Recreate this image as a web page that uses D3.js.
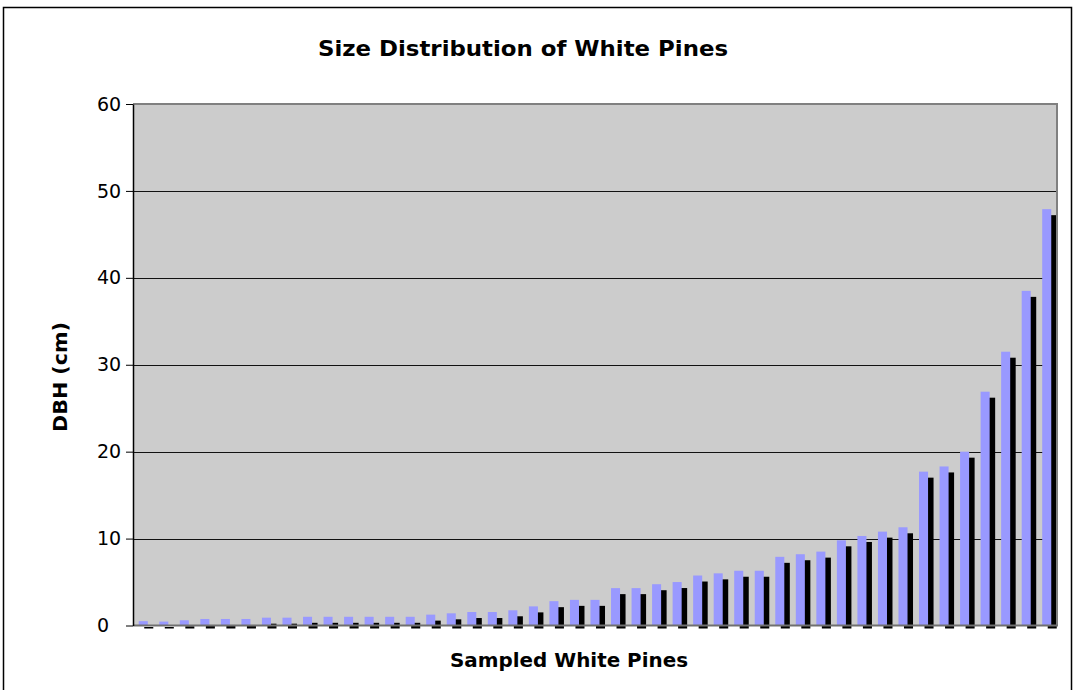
<!DOCTYPE html>
<html>
<head>
<meta charset="utf-8">
<script src="https://cdn.jsdelivr.net/npm/d3@7/dist/d3.min.js"></script>
<style>
  html, body { margin: 0; padding: 0; background: #ffffff; }
  svg { display: block; }
  text { font-family: "DejaVu Sans", Verdana, sans-serif; fill: #000; }
</style>
</head>
<body>
<svg id="chart" width="1076" height="690"></svg>
<script>
// Sampled trees, sorted by diameter at breast height
const trees = [1, 2, 3, 4, 5, 6, 7, 8, 9, 10, 11, 12, 13, 14, 15, 16, 17, 18, 19, 20,
               21, 22, 23, 24, 25, 26, 27, 28, 29, 30, 31, 32, 33, 34, 35, 36, 37, 38, 39, 40,
               41, 42, 43, 44, 45];
const dbh = [0.5, 0.45, 0.6, 0.75, 0.75, 0.75, 0.9, 0.9, 1.0, 1.0,
             1.0, 1.0, 1.0, 1.0, 1.25, 1.4, 1.55, 1.55, 1.75, 2.2,
             2.8, 2.95, 2.95, 4.3, 4.3, 4.75, 5.0, 5.75, 6.0, 6.3,
             6.3, 7.9, 8.2, 8.5, 9.8, 10.3, 10.8, 11.3, 17.7, 18.3,
             20.0, 26.9, 31.5, 38.5, 47.9];
const yTicks = [0, 10, 20, 30, 40, 50, 60];

const titleText = "Size Distribution of White Pines";
const xTitleText = "Sampled White Pines";
const yTitleText = "DBH (cm)";

const svg = d3.select("#chart");
const plot = { left: 133, right: 1057, top: 104, bottom: 625.5 };

// outer chart frame
svg.append("rect")
  .attr("x", 3.5).attr("y", 7.5)
  .attr("width", 1068).attr("height", 700)
  .attr("fill", "#ffffff")
  .attr("stroke", "#000").attr("stroke-width", 1.5);

const x = d3.scaleBand()
  .domain(trees)
  .range([plot.left, plot.right])
  .paddingInner(0.56)
  .paddingOuter(0.28);

const y = d3.scaleLinear()
  .domain([0, 60])
  .range([plot.bottom, plot.top]);

// plot area background
svg.append("rect")
  .attr("x", plot.left).attr("y", plot.top)
  .attr("width", plot.right - plot.left)
  .attr("height", plot.bottom - plot.top)
  .attr("fill", "#cccccc");

// horizontal gridlines
svg.append("g")
  .selectAll("line")
  .data(yTicks.filter(t => t > 0 && t < 60))
  .join("line")
  .attr("x1", plot.left).attr("x2", plot.right)
  .attr("y1", d => Math.round(y(d)) + 0.5)
  .attr("y2", d => Math.round(y(d)) + 0.5)
  .attr("stroke", "#111").attr("stroke-width", 1);

// drop shadows behind the bars
const shadowDx = 5.5, shadowDy = 6, shadowBelow = 3;
const shadowTop = v => Math.min(y(v) + shadowDy, plot.bottom + shadowBelow - 1.5);
svg.append("g")
  .selectAll("rect")
  .data(trees)
  .join("rect")
  .attr("x", d => x(d) + shadowDx)
  .attr("y", (d, i) => shadowTop(dbh[i]))
  .attr("width", x.bandwidth())
  .attr("height", (d, i) => plot.bottom + shadowBelow - shadowTop(dbh[i]))
  .attr("fill", "#000");

// bars
svg.append("g")
  .selectAll("rect")
  .data(trees)
  .join("rect")
  .attr("x", d => x(d))
  .attr("y", (d, i) => y(dbh[i]))
  .attr("width", x.bandwidth())
  .attr("height", (d, i) => plot.bottom - y(dbh[i]))
  .attr("fill", "#9999ff");

// plot area border (top and right)
svg.append("path")
  .attr("d", `M${plot.left},${plot.top}H${plot.right}V${plot.bottom}`)
  .attr("fill", "none")
  .attr("stroke", "#808080").attr("stroke-width", 2);

// x axis line
svg.append("line")
  .attr("x1", plot.left).attr("x2", plot.right + 1)
  .attr("y1", plot.bottom).attr("y2", plot.bottom)
  .attr("stroke", "#707070").attr("stroke-width", 2);

// y axis
const yAxis = d3.axisLeft(y)
  .tickValues(yTicks)
  .tickSize(7)
  .tickSizeOuter(0)
  .tickFormat(d3.format("d"));

const gy = svg.append("g")
  .attr("transform", `translate(${plot.left},0)`)
  .call(yAxis);
gy.select(".domain").attr("stroke", "#000").attr("stroke-width", 1.5);
gy.selectAll(".tick line").attr("stroke", "#000").attr("stroke-width", 1);
gy.selectAll(".tick text")
  .attr("x", -36)
  .attr("text-anchor", "start")
  .attr("font-family", "DejaVu Sans, Verdana, sans-serif")
  .attr("font-size", 19)
  .attr("fill", "#111");

// titles
svg.append("text")
  .attr("x", 523).attr("y", 56)
  .attr("text-anchor", "middle")
  .attr("font-weight", "bold")
  .attr("font-size", 22)
  .attr("textLength", 410)
  .attr("lengthAdjust", "spacingAndGlyphs")
  .text(titleText);

svg.append("text")
  .attr("x", 569).attr("y", 667)
  .attr("text-anchor", "middle")
  .attr("font-weight", "bold")
  .attr("font-size", 19.5)
  .attr("textLength", 238)
  .attr("lengthAdjust", "spacingAndGlyphs")
  .text(xTitleText);

svg.append("text")
  .attr("transform", "translate(67,377) rotate(-90)")
  .attr("text-anchor", "middle")
  .attr("font-weight", "bold")
  .attr("font-size", 19.5)
  .attr("textLength", 110)
  .attr("lengthAdjust", "spacingAndGlyphs")
  .text(yTitleText);
</script>
</body>
</html>
